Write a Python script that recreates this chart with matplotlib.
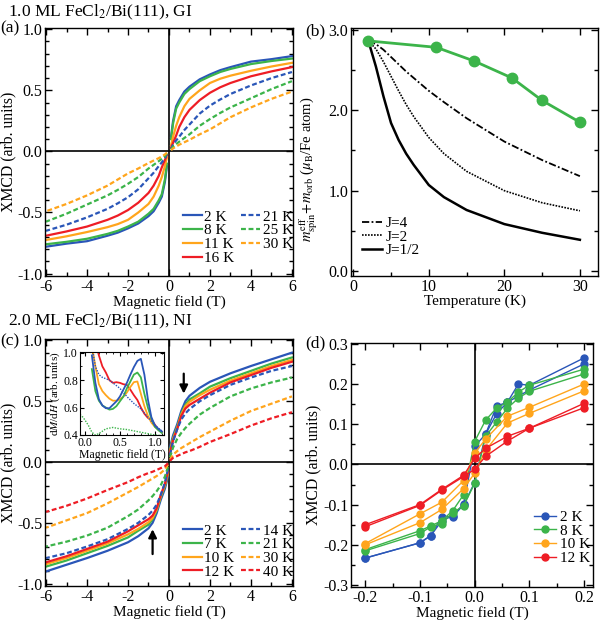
import numpy as np
import matplotlib
matplotlib.use('Agg')
import matplotlib.pyplot as plt
from matplotlib.ticker import MultipleLocator, FormatStrFormatter

plt.rcParams['font.family'] = ['Liberation Serif', 'DejaVu Serif']
plt.rcParams['mathtext.fontset'] = 'stix'
plt.rcParams['axes.unicode_minus'] = False
plt.rcParams['font.size'] = 11

BLUE = '#2a56b8'
GREEN = '#3cb44a'
ORANGE = '#ffa51c'
RED = '#ee1d25'

# ---- panel (a): 1.0 ML, GI (positive branch, negative branch is mirrored)
field_a = [0.1, 0.2, 0.35, 0.5, 0.75, 1.0, 1.5, 2.0, 2.5, 3.0, 4.0, 5.0, 6.0]
temps_a = ['2 K', '8 K', '11 K', '16 K', '21 K', '25 K', '30 K']
a_2K = [0.12, 0.25, 0.37, 0.42, 0.49, 0.53, 0.59, 0.63, 0.665, 0.69, 0.735, 0.755, 0.78]
a_8K = [0.10, 0.23, 0.35, 0.40, 0.47, 0.51, 0.575, 0.615, 0.65, 0.675, 0.715, 0.74, 0.76]
a_11K = [0.05, 0.12, 0.21, 0.28, 0.37, 0.43, 0.50, 0.56, 0.595, 0.62, 0.66, 0.695, 0.725]
a_16K = [0.03, 0.07, 0.13, 0.20, 0.28, 0.34, 0.42, 0.48, 0.525, 0.56, 0.615, 0.655, 0.69]
a_21K = [0.02, 0.055, 0.09, 0.12, 0.175, 0.22, 0.31, 0.375, 0.425, 0.47, 0.54, 0.60, 0.65]
a_25K = [0.015, 0.04, 0.06, 0.08, 0.11, 0.14, 0.21, 0.265, 0.315, 0.36, 0.435, 0.51, 0.575]
a_30K = [0.01, 0.025, 0.04, 0.055, 0.075, 0.095, 0.14, 0.18, 0.23, 0.28, 0.36, 0.43, 0.49]

# ---- panel (b): moment vs temperature
temp_b = [2, 11, 16, 21, 25, 30]
moment_b = [2.86, 2.78, 2.61, 2.40, 2.12, 1.85]
temp_calc = [2, 3, 4, 5, 6, 7, 8, 10, 12, 15, 20, 25, 30]
calc_J4 = [2.86, 2.82, 2.75, 2.66, 2.57, 2.48, 2.40, 2.24, 2.10, 1.90, 1.61, 1.38, 1.18]
calc_J2 = [2.86, 2.76, 2.60, 2.42, 2.24, 2.07, 1.92, 1.66, 1.46, 1.24, 1.00, 0.85, 0.75]
calc_J05 = [2.86, 2.54, 2.17, 1.84, 1.63, 1.46, 1.32, 1.07, 0.92, 0.76, 0.585, 0.477, 0.39]

# ---- panel (c): 2.0 ML, NI
field_c = [0.05, 0.2, 0.4, 0.6, 0.8, 1.0, 1.5, 2.0, 3.0, 4.0, 5.0, 6.0]
temps_c = ['2 K', '7 K', '10 K', '12 K', '14 K', '21 K', '30 K', '40 K']
c_2K = [0.12, 0.22, 0.31, 0.42, 0.50, 0.545, 0.61, 0.66, 0.73, 0.79, 0.845, 0.90]
c_7K = [0.10, 0.20, 0.29, 0.40, 0.47, 0.515, 0.565, 0.62, 0.69, 0.75, 0.81, 0.86]
c_10K = [0.09, 0.19, 0.28, 0.39, 0.46, 0.495, 0.55, 0.595, 0.67, 0.73, 0.79, 0.84]
c_12K = [0.08, 0.18, 0.27, 0.38, 0.44, 0.47, 0.52, 0.57, 0.655, 0.715, 0.775, 0.825]
c_14K = [0.06, 0.17, 0.27, 0.35, 0.40, 0.435, 0.50, 0.55, 0.635, 0.695, 0.75, 0.79]
c_21K = [0.04, 0.12, 0.19, 0.24, 0.28, 0.315, 0.39, 0.445, 0.54, 0.605, 0.655, 0.695]
c_30K = [0.02, 0.06, 0.09, 0.115, 0.135, 0.155, 0.205, 0.25, 0.34, 0.42, 0.48, 0.54]
c_40K = [0.01, 0.035, 0.05, 0.065, 0.08, 0.09, 0.125, 0.165, 0.23, 0.30, 0.36, 0.41]
arrow_down = (0.72, 0.75, 0.54)   # field, start, end
arrow_up = (-0.8, -0.78, -0.53)

# inset dM/dH
field_in = [0.1, 0.15, 0.2, 0.25, 0.3, 0.35, 0.4, 0.45, 0.5, 0.55, 0.6, 0.65,
            0.7, 0.75, 0.8, 0.85, 0.9, 0.95, 1.0, 1.05, 1.1]
in_2K = [0.98, 0.78, 0.66, 0.615, 0.595, 0.595, 0.62, 0.645, 0.68, 0.73, 0.78, 0.84,
         0.895, 0.94, 0.955, 0.84, 0.66, 0.53, 0.47, 0.445, 0.425]
in_7K = [0.88, 0.72, 0.65, 0.615, 0.60, 0.585, 0.59, 0.61, 0.645, 0.68, 0.74, 0.79,
         0.84, 0.855, 0.82, 0.70, 0.60, 0.52, 0.46, 0.435, 0.415]
in_10K = [1.05, 0.90, 0.77, 0.72, 0.69, 0.665, 0.65, 0.65, 0.66, 0.68, 0.71, 0.75,
          0.785, 0.79, 0.70, 0.61, 0.54, 0.49, 0.46, 0.44, 0.42]
in_12K = [1.2, 1.08, 0.98, 0.90, 0.855, 0.80, 0.78, 0.785, 0.78, 0.77, 0.765, 0.73,
          0.69, 0.655, 0.60, 0.555, 0.525, 0.51, 0.475, 0.44, 0.42]
in_14K = [1.05, 0.90, 0.84, 0.82, 0.81, 0.80, 0.78, 0.76, 0.74, 0.71, 0.68, 0.655,
          0.63, 0.61, 0.59, 0.56, 0.53, 0.50, 0.47, 0.45, 0.43]
field_in21 = [-0.07, -0.03, 0.0, 0.05, 0.1, 0.15, 0.2, 0.3, 0.4, 0.5, 0.6, 0.7, 0.8, 0.9, 1.0, 1.1]
in_21K = [0.55, 0.53, 0.51, 0.47, 0.42, 0.40, 0.41, 0.445, 0.455, 0.445, 0.44, 0.43, 0.42, 0.41, 0.40, 0.395]

# ---- panel (d): low field loops (two sweep branches each)
field_d = [-0.2, -0.1, -0.08, -0.06, -0.04, -0.02, 0.0, 0.02, 0.04, 0.06, 0.08, 0.1, 0.2]
d_2K_up = [-0.233, -0.195, -0.177, -0.13, -0.13, -0.10, -0.045, 0.075, 0.126, 0.155, 0.17, 0.185, 0.25]
d_2K_dn = [-0.233, -0.195, -0.177, -0.14, -0.128, -0.098, 0.045, 0.075, 0.145, 0.155, 0.20, 0.197, 0.265]
d_8K_up = [-0.215, -0.172, -0.155, -0.147, -0.12, -0.103, -0.047, 0.07, 0.105, 0.14, 0.165, 0.182, 0.225]
d_8K_dn = [-0.212, -0.165, -0.153, -0.14, -0.115, -0.075, 0.057, 0.11, 0.14, 0.155, 0.18, 0.197, 0.237]
field_d2 = [-0.2, -0.1, -0.06, -0.02, 0.0, 0.02, 0.06, 0.1, 0.2]
d_10K_up = [-0.2, -0.145, -0.112, -0.06, -0.022, 0.035, 0.103, 0.127, 0.183]
d_10K_dn = [-0.197, -0.123, -0.094, -0.04, 0.028, 0.063, 0.12, 0.142, 0.2]
d_12K_up = [-0.155, -0.102, -0.064, -0.03, -0.012, 0.02, 0.058, 0.09, 0.141]
d_12K_dn = [-0.15, -0.10, -0.062, -0.027, 0.015, 0.04, 0.07, 0.09, 0.152]


def style_axes(ax, xmaj, xmin, ymaj, ymin, yfmt):
    ax.xaxis.set_major_locator(MultipleLocator(xmaj))
    ax.xaxis.set_minor_locator(MultipleLocator(xmin))
    ax.yaxis.set_major_locator(MultipleLocator(ymaj))
    ax.yaxis.set_minor_locator(MultipleLocator(ymin))
    ax.yaxis.set_major_formatter(FormatStrFormatter(yfmt))
    ax.tick_params(which='both', direction='in', top=True, right=True, width=1,
                   labelsize=11.5, pad=2)
    ax.tick_params(which='major', length=5)
    ax.tick_params(which='minor', length=3)
    for s in ax.spines.values():
        s.set_linewidth(1)


leg_kw = dict(frameon=False, borderpad=0, borderaxespad=0, handlelength=1.25,
              handletextpad=0.15, columnspacing=0.45, labelspacing=0.0, fontsize=11)

fig = plt.figure(figsize=(6, 6.2), dpi=100)

# (a)
ax1 = fig.add_axes([0.075, 0.5548, 0.4133, 0.4])
ax1.axhline(0, color='k', lw=1.2)
ax1.axvline(0, color='k', lw=1.2)
h = np.array(field_a)
curves_a = [a_2K, a_8K, a_11K, a_16K, a_21K, a_25K, a_30K]
cols_a = [BLUE, GREEN, ORANGE, RED, BLUE, GREEN, ORANGE]
for i, (v, c, lab) in enumerate(zip(curves_a, cols_a, temps_a)):
    ls = '-' if i < 4 else (0, (2.2, 1.2))
    v = np.array(v)
    ax1.plot(h, v, color=c, ls=ls, lw=1.6, label=lab)
    ax1.plot(-h, -v, color=c, ls=ls, lw=1.6)
ax1.set_xlim(-6.05, 6.05)
ax1.set_ylim(-1.02, 1.01)
style_axes(ax1, 2, 1, 0.5, 0.1, '%.1f')
ax1.set_xlabel('Magnetic field (T)', labelpad=0)
ax1.set_ylabel('XMCD (arb. units)', fontsize=11.3)
ax1.yaxis.set_label_coords(-0.115, 0.5)
ax1.legend(ncol=2, loc='lower right', bbox_to_anchor=(1.0, 0.045), **leg_kw)

# (b)
ax2 = fig.add_axes([0.585, 0.5548, 0.4117, 0.4])
ax2.plot(temp_calc, calc_J4, color='k', lw=1.3, ls=(0, (4, 1.3, 1, 1.3)), label='J=4')
ax2.plot(temp_calc, calc_J2, color='k', lw=1.2, ls=(0, (1, 0.8)), label='J=2')
ax2.plot(temp_calc, calc_J05, color='k', lw=1.8, label='J=1/2')
ax2.plot(temp_b, moment_b, color=GREEN, lw=2, marker='o', ms=7.5)
ax2.set_xlim(-0.3, 32.4)
ax2.set_ylim(-0.06, 3.02)
style_axes(ax2, 10, 5, 1.0, 0.5, '%.1f')
ax2.xaxis.set_major_formatter(FormatStrFormatter('%d'))
ax2.set_xlabel('Temperature (K)', labelpad=0)
ax2.set_ylabel(r'$m^{\rm eff}_{\rm spin}\!+\!m_{\rm orb}$ ($\mu_{\rm B}$/Fe atom)', fontsize=10.5)
ax2.yaxis.set_label_coords(-0.125, 0.43)
ax2.legend(loc='lower left', bbox_to_anchor=(0.045, 0.075), frameon=False, borderpad=0,
           borderaxespad=0, handlelength=1.3, handletextpad=0.25, labelspacing=0.0,
           fontsize=11)

# (c)
ax3 = fig.add_axes([0.075, 0.0548, 0.4133, 0.398])
ax3.axhline(0, color='k', lw=1.2)
ax3.axvline(0, color='k', lw=1.2)
h = np.array(field_c)
curves_c = [c_2K, c_7K, c_10K, c_12K, c_14K, c_21K, c_30K, c_40K]
cols_c = [BLUE, GREEN, ORANGE, RED, BLUE, GREEN, ORANGE, RED]
for i, (v, c, lab) in enumerate(zip(curves_c, cols_c, temps_c)):
    ls = '-' if i < 4 else (0, (2.2, 1.2))
    v = np.array(v)
    ax3.plot(h, v, color=c, ls=ls, lw=1.6, label=lab)
    ax3.plot(-h, -v, color=c, ls=ls, lw=1.6)
ax3.annotate('', xy=(arrow_down[0], arrow_down[2]), xytext=(arrow_down[0], arrow_down[1]),
             arrowprops=dict(arrowstyle='-|>', color='k', lw=1.6, mutation_scale=12))
ax3.annotate('', xy=(arrow_up[0], arrow_up[2]), xytext=(arrow_up[0], arrow_up[1]),
             arrowprops=dict(arrowstyle='-|>', color='k', lw=1.6, mutation_scale=12))
ax3.set_xlim(-6.05, 6.05)
ax3.set_ylim(-1.02, 1.01)
style_axes(ax3, 2, 1, 0.5, 0.1, '%.1f')
ax3.set_xlabel('Magnetic field (T)', labelpad=0)
ax3.set_ylabel('XMCD (arb. units)', fontsize=11.3)
ax3.yaxis.set_label_coords(-0.115, 0.5)
ax3.legend(ncol=2, loc='lower right', bbox_to_anchor=(1.0, 0.03), **leg_kw)

# inset
axi = fig.add_axes([0.1333, 0.2984, 0.14, 0.1339])
for v, c in zip([in_12K, in_10K, in_7K, in_2K], [RED, ORANGE, GREEN, BLUE]):
    axi.plot(field_in, v, color=c, lw=1.3)
axi.plot(field_in, in_14K, color=BLUE, lw=1.0, ls=(0, (1, 1)))
axi.plot(field_in21, in_21K, color=GREEN, lw=1.0, ls=(0, (1, 1)))
axi.set_xlim(-0.07, 1.13)
axi.set_ylim(0.4, 1.005)
axi.xaxis.set_major_locator(MultipleLocator(0.5))
axi.xaxis.set_minor_locator(MultipleLocator(0.1))
axi.yaxis.set_major_locator(MultipleLocator(0.2))
axi.yaxis.set_minor_locator(MultipleLocator(0.1))
axi.xaxis.set_major_formatter(FormatStrFormatter('%.1f'))
axi.yaxis.set_major_formatter(FormatStrFormatter('%.1f'))
axi.tick_params(which='both', direction='in', top=True, right=True, labelsize=8.5, pad=1.5)
axi.tick_params(which='major', length=3)
axi.tick_params(which='minor', length=1.5)
axi.set_xlabel('Magnetic field (T)', fontsize=8.5, labelpad=0)
axi.set_ylabel(r'd$M$/d$H$ (arb. units)', fontsize=8, labelpad=1)

# (d)
ax4 = fig.add_axes([0.585, 0.0532, 0.403, 0.3935])
ax4.axhline(0, color='k', lw=1.2)
ax4.axvline(0, color='k', lw=1.2)
loops = [(field_d, d_2K_up, d_2K_dn, BLUE, '2 K'),
         (field_d, d_8K_up, d_8K_dn, GREEN, '8 K'),
         (field_d2, d_10K_up, d_10K_dn, ORANGE, '10 K'),
         (field_d2, d_12K_up, d_12K_dn, RED, '12 K')]
for f, up, dn, c, lab in loops:
    ax4.plot(f, up, color=c, lw=1.0, marker='o', ms=5, label=lab)
    ax4.plot(f, dn, color=c, lw=1.0, marker='o', ms=5)
ax4.set_xlim(-0.226, 0.216)
ax4.set_ylim(-0.305, 0.302)
style_axes(ax4, 0.1, 0.05, 0.1, 0.05, '%.1f')
ax4.xaxis.set_major_formatter(FormatStrFormatter('%.1f'))
ax4.set_xlabel('Magnetic field (T)', labelpad=0)
ax4.set_ylabel('XMCD (arb. units)', fontsize=11.3, labelpad=1)
ax4.legend(loc='lower right', bbox_to_anchor=(0.99, 0.09), frameon=False, borderpad=0,
           borderaxespad=0, handlelength=1.4, handletextpad=0.3, labelspacing=0.0,
           fontsize=11)

# titles and panel labels
fig.text(0.013, 0.98, r'1.0 ML FeCl$_2$/Bi(111), GI', fontsize=12.5, va='center')
fig.text(0.013, 0.482, r'2.0 ML FeCl$_2$/Bi(111), NI', fontsize=12.5, va='center')
fig.text(0.0, 0.954, '(a)', fontsize=12.5, va='center')
fig.text(0.508, 0.950, '(b)', fontsize=12.5, va='center')
fig.text(0.0, 0.449, '(c)', fontsize=12.5, va='center')
fig.text(0.508, 0.446, '(d)', fontsize=12.5, va='center')

fig.savefig('out.png', dpi=100)
